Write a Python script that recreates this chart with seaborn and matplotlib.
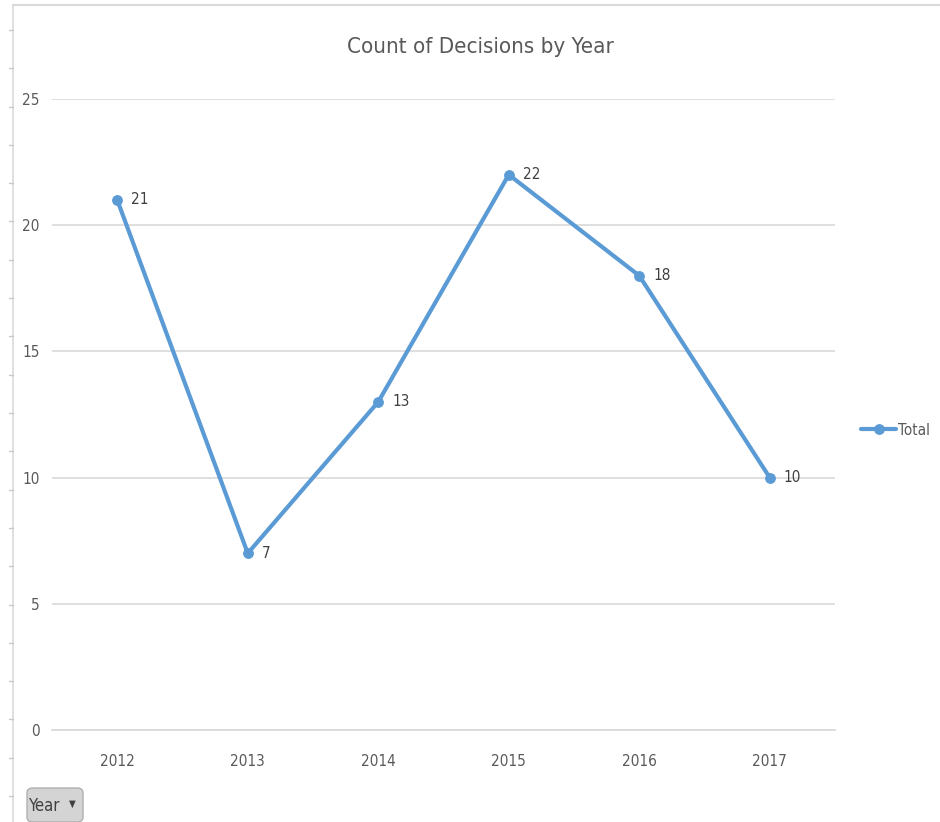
import matplotlib
matplotlib.use("Agg")
import matplotlib.pyplot as plt
from matplotlib.patches import FancyBboxPatch
from matplotlib.lines import Line2D
import seaborn as sns
import pandas as pd

years = ["2012", "2013", "2014", "2015", "2016", "2017"]
totals = [21, 7, 13, 22, 18, 10]
y_ticks = [0, 5, 10, 15, 20, 25]

sns.set_theme(style="white")
plt.rcParams["font.family"] = ["DejaVu Sans"]
plt.rcParams["font.stretch"] = "condensed"

BLUE = "#5B9BD5"
GRID = "#D9D9D9"
TEXT = "#595959"

df = pd.DataFrame({"Year": years, "Total": totals})

fig = plt.figure(figsize=(9.4, 8.22), dpi=100)
ax = fig.add_axes([52 / 940, 1 - 730 / 822, 783 / 940, 631 / 822])

sns.lineplot(data=df, x="Year", y="Total", ax=ax, color=BLUE, linewidth=3.0,
             marker="o", markersize=7, markeredgecolor=BLUE, label="Total",
             sort=False)

ax.set_xlim(-0.5, len(years) - 0.5)
ax.set_ylim(0, 25)
ax.set_yticks(y_ticks)
ax.set_yticklabels([str(v) for v in y_ticks])
ax.yaxis.grid(True, color=GRID, linewidth=1.2)
ax.xaxis.grid(False)
for side in ["top", "right", "left"]:
    ax.spines[side].set_visible(False)
ax.spines["bottom"].set_color(GRID)
ax.spines["bottom"].set_linewidth(1.2)
ax.tick_params(axis="both", length=0, labelsize=11, colors=TEXT)
ax.tick_params(axis="y", pad=9)
ax.tick_params(axis="x", pad=17)
ax.set_xlabel("")
ax.set_ylabel("")

for i, v in enumerate(totals):
    ax.annotate(str(v), (i, v), xytext=(10, 0), textcoords="offset points",
                ha="left", va="center", fontsize=11, color="#404040")

fig.text(480 / 940, 1 - 47 / 822, "Count of Decisions by Year", ha="center",
         va="center", fontsize=16, color=TEXT)

ax.legend(loc="center left", bbox_to_anchor=(861 / 940, 1 - 430 / 822),
          bbox_transform=fig.transFigure, frameon=False, fontsize=11,
          handlelength=2.3, handletextpad=0.1, labelcolor=TEXT,
          borderaxespad=0, borderpad=0)

# outer chart frame with small row marks on the left
fig.add_artist(Line2D([13 / 940, 1], [1 - 5 / 822] * 2, color="#DADADA",
                      linewidth=1.5, transform=fig.transFigure))
fig.add_artist(Line2D([13 / 940] * 2, [0, 1 - 5 / 822], color="#DADADA",
                      linewidth=1.2, transform=fig.transFigure))
for k in range(22):
    y = 30 + k * 38.3
    if y > 822:
        break
    fig.add_artist(Line2D([9 / 940, 13 / 940], [1 - y / 822] * 2,
                          color="#C8C8C8", linewidth=1.0,
                          transform=fig.transFigure))

# field button
btn = FancyBboxPatch((27 / 940, 1 - 822 / 822), 56 / 940, 34 / 822,
                     boxstyle="round,pad=0,rounding_size=0.006",
                     transform=fig.transFigure, facecolor="#D4D4D4",
                     edgecolor="#B0B0B0", linewidth=1.0)
fig.add_artist(btn)
fig.text(45 / 940, 1 - 806 / 822, "Year", ha="center", va="center",
         fontsize=12, color="#404040")
fig.text(72 / 940, 1 - 804 / 822, "▼", ha="center", va="center",
         fontsize=7, color="#404040", family="DejaVu Sans")

fig.savefig("out.png", dpi=100, facecolor="white")
